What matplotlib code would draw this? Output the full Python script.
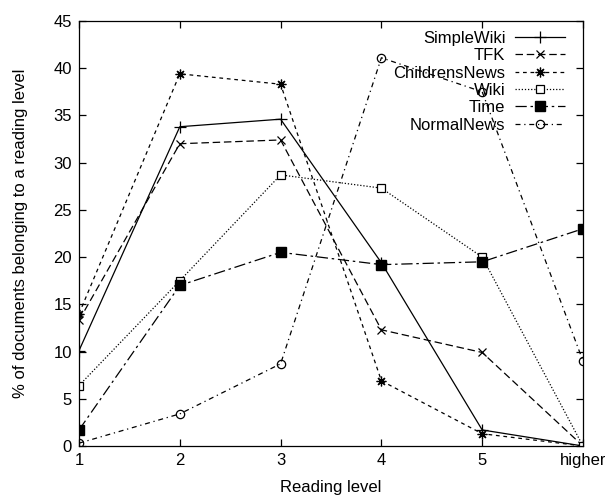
import matplotlib
matplotlib.use('Agg')
import matplotlib.pyplot as plt
import numpy as np

plt.rcParams['font.family'] = ['Liberation Sans', 'DejaVu Sans']
plt.rcParams['font.size'] = 12

# reading levels, "higher" sits one step after 5
levels = ['1', '2', '3', '4', '5', 'higher']

simple_wiki = [10.1, 33.8, 34.6, 19.4, 1.7, 0.0]
tfk = [13.3, 32.0, 32.4, 12.3, 9.9, 0.0]
childrens_news = [14.0, 39.4, 38.3, 6.9, 1.3, 0.0]
wiki = [6.4, 17.5, 28.7, 27.3, 20.0, 0.0]
time_mag = [1.7, 17.0, 20.5, 19.2, 19.5, 23.0]
normal_news = [0.3, 3.4, 8.7, 41.1, 37.5, 9.0]

x = np.arange(1, len(levels) + 1)

fig = plt.figure(figsize=(6.05, 4.96), dpi=100)
ax = fig.add_axes([0.1306, 0.1008, 0.833, 0.857])

lw = 0.9
ax.plot(x, simple_wiki, color='black', lw=lw, linestyle='-',
        marker='+', markersize=8, mew=0.9, label='SimpleWiki')
ax.plot(x, tfk, color='black', lw=lw, linestyle=(0, (6, 3)),
        marker='x', markersize=6, mew=0.9, label='TFK')
ax.plot(x, childrens_news, color='black', lw=lw, linestyle=(0, (3, 3)),
        marker=(8, 2, 0), markersize=7, mew=0.9, label='ChildrensNews')
ax.plot(x, wiki, color='black', lw=lw, linestyle=(0, (1, 1.5)),
        marker='s', markersize=6, mfc='white', mew=0.9, label='Wiki')
ax.plot(x, time_mag, color='black', lw=lw, linestyle=(0, (9, 3, 2, 3)),
        marker='s', markersize=6.5, mfc='black', label='Time')
ax.plot(x, normal_news, color='black', lw=lw, linestyle=(0, (4, 3, 1, 3)),
        marker='o', markersize=6, mfc='none', mew=0.9, label='NormalNews')

ax.set_xlim(1, 6)
ax.set_ylim(0, 45)
ax.set_xticks(x)
ax.set_xticklabels(levels)
ax.set_yticks(np.arange(0, 46, 5))
ax.tick_params(direction='in', top=True, right=True, length=5, width=0.9,
               pad=5)
for s in ax.spines.values():
    s.set_linewidth(0.9)

ax.set_xlabel('Reading level', labelpad=9)
ax.set_ylabel('% of documents belonging to a reading level', labelpad=18)

ax.legend(loc='upper right', frameon=False, markerfirst=False,
          handlelength=3.0, labelspacing=0.14, borderaxespad=0.2,
          handletextpad=0.6, fontsize=12, bbox_to_anchor=(0.985, 1.0))

fig.savefig('out.png', dpi=100)
